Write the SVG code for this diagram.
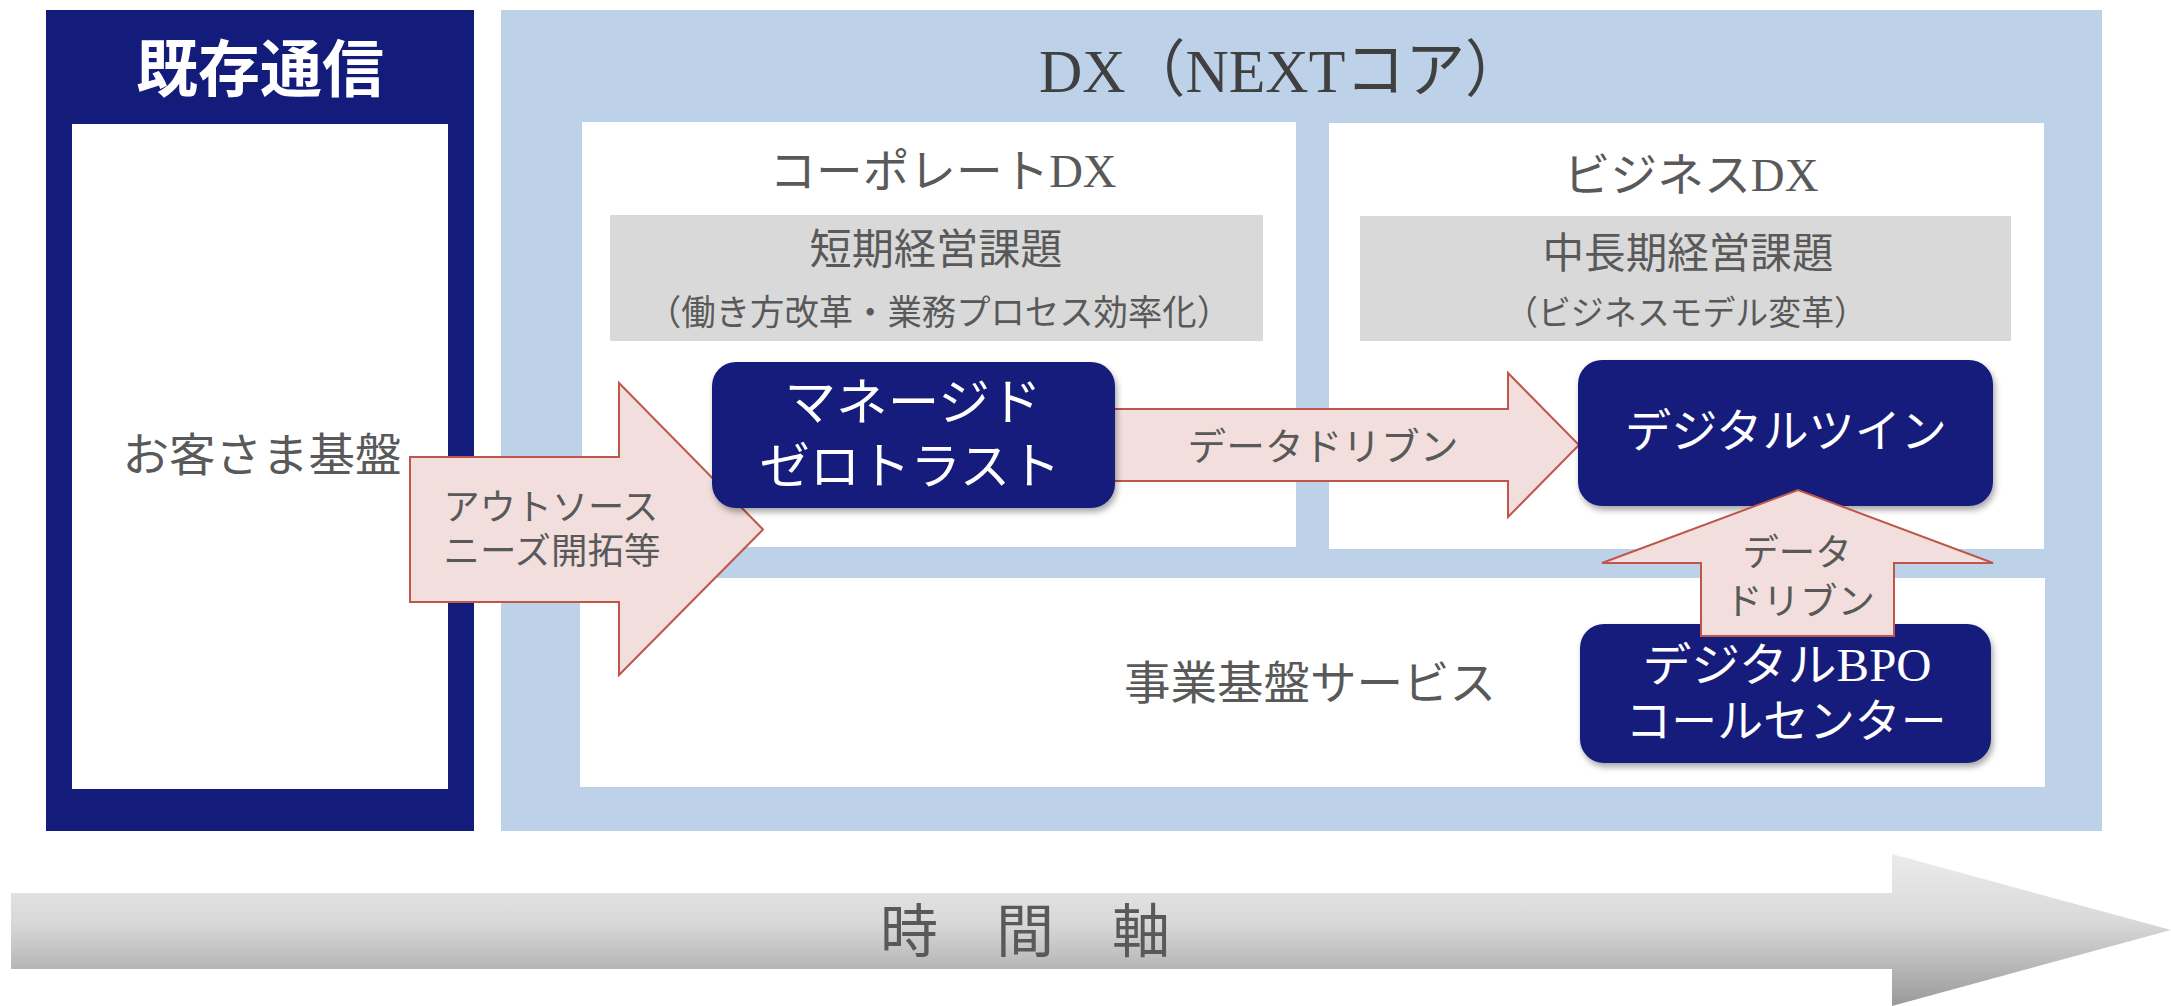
<svg xmlns="http://www.w3.org/2000/svg" width="2171" height="1006" viewBox="0 0 2171 1006">
<style>
.navy{fill:#131B7B}
.lblue{fill:#BDD1E9}
.white{fill:#FFFFFF}
.gray{fill:#D9D9D9}
.arrow{fill:#F2DFDD;stroke:#C0564A;stroke-width:2;stroke-linejoin:miter}
.t{font-family:"Liberation Serif","Noto Sans CJK JP",serif;fill:#595959;text-anchor:middle}
.tw{font-family:"Liberation Serif","Noto Sans CJK JP",serif;fill:#FFFFFF;text-anchor:middle}
</style>
<defs>
<filter id="sh" x="-10%" y="-10%" width="125%" height="135%">
<feDropShadow dx="2" dy="4" stdDeviation="3" flood-color="#000" flood-opacity="0.35"/>
</filter>
<linearGradient id="tg" gradientUnits="userSpaceOnUse" x1="0" y1="854" x2="0" y2="1006">
<stop offset="0" stop-color="#EBEBEB"/>
<stop offset="0.45" stop-color="#D9D9D9"/>
<stop offset="1" stop-color="#9A9A9A"/>
</linearGradient>
</defs>

<g id="existing">
<rect class="navy" x="46" y="10" width="428" height="821"/>
<rect class="white" x="72" y="124" width="376" height="665"/>
<text class="tw" x="260" y="92" font-size="62" font-weight="bold" textLength="248" lengthAdjust="spacingAndGlyphs">既存通信</text>
<text class="t" x="262" y="471" font-size="46" textLength="279" lengthAdjust="spacingAndGlyphs">お客さま基盤</text>
</g>

<g id="dx">
<rect class="lblue" x="501" y="10" width="1601" height="821"/>
<text class="t" x="1282" y="92" font-size="62" fill="#404040" style="fill:#404040" textLength="486" lengthAdjust="spacingAndGlyphs">DX（NEXTコア）</text>
</g>

<g id="corporate-dx">
<rect class="white" x="582" y="122" width="714" height="425"/>
<text class="t" x="943" y="187" font-size="46" textLength="347" lengthAdjust="spacingAndGlyphs">コーポレートDX</text>
<rect class="gray" x="610" y="215" width="653" height="126"/>
<text class="t" x="936" y="264" font-size="42" textLength="253" lengthAdjust="spacingAndGlyphs">短期経営課題</text>
<text class="t" x="939" y="325" font-size="35" textLength="584" lengthAdjust="spacingAndGlyphs">（働き方改革・業務プロセス効率化）</text>
</g>

<g id="business-dx">
<rect class="white" x="1329" y="123" width="715" height="426"/>
<text class="t" x="1691" y="191" font-size="46" textLength="255" lengthAdjust="spacingAndGlyphs">ビジネスDX</text>
<rect class="gray" x="1360" y="216" width="651" height="125"/>
<text class="t" x="1688" y="268" font-size="42" textLength="291" lengthAdjust="spacingAndGlyphs">中長期経営課題</text>
<text class="t" x="1686" y="325" font-size="34" textLength="362" lengthAdjust="spacingAndGlyphs">（ビジネスモデル変革）</text>
</g>

<g id="business-platform">
<rect class="white" x="580" y="578" width="1465" height="209"/>
<text class="t" x="1310" y="699" font-size="46" textLength="372" lengthAdjust="spacingAndGlyphs">事業基盤サービス</text>
</g>

<g id="connectors">
<polygon id="arrow-outsource" class="arrow" points="410,457 619,457 619,383 763,529.5 619,675 619,602 410,602"/>
<text class="t" x="551" y="520" font-size="36" textLength="215" lengthAdjust="spacingAndGlyphs">アウトソース</text>
<text class="t" x="552" y="564" font-size="36" textLength="217" lengthAdjust="spacingAndGlyphs">ニーズ開拓等</text>
<polygon id="arrow-datadriven" class="arrow" points="1114,409 1508,409 1508,373 1579,445 1508,517 1508,481 1114,481"/>
<text class="t" x="1323" y="460" font-size="38" textLength="271" lengthAdjust="spacingAndGlyphs">データドリブン</text>
</g>

<g id="managed-zerotrust">
<rect class="navy" x="712" y="362" width="403" height="146" rx="24" ry="24" filter="url(#sh)"/>
<text class="tw" x="913" y="420" font-size="50" textLength="257" lengthAdjust="spacingAndGlyphs">マネージド</text>
<text class="tw" x="910" y="484" font-size="50" textLength="301" lengthAdjust="spacingAndGlyphs">ゼロトラスト</text>
</g>

<g id="digital-twin">
<rect class="navy" x="1578" y="360" width="415" height="146" rx="24" ry="24" filter="url(#sh)"/>
<text class="tw" x="1786" y="447" font-size="46" textLength="322" lengthAdjust="spacingAndGlyphs">デジタルツイン</text>
</g>

<g id="digital-bpo">
<rect class="navy" x="1580" y="624" width="411" height="139" rx="24" ry="24" filter="url(#sh)"/>
<text class="tw" x="1787" y="681" font-size="46" textLength="289" lengthAdjust="spacingAndGlyphs">デジタルBPO</text>
<text class="tw" x="1786" y="737" font-size="46" textLength="321" lengthAdjust="spacingAndGlyphs">コールセンター</text>
</g>

<g id="connectors-up">
<polygon id="arrow-up-datadriven" class="arrow" points="1701,636 1701,563 1602,563 1798,490 1993,563 1894,563 1894,636"/>
<text class="t" x="1797" y="566" font-size="37" textLength="109" lengthAdjust="spacingAndGlyphs">データ</text>
<text class="t" x="1800" y="615" font-size="37" textLength="150" lengthAdjust="spacingAndGlyphs">ドリブン</text>
</g>

<g id="time-axis">
<polygon fill="url(#tg)" points="11,893 1892,893 1892,854 2171,930 1892,1006 1892,969 11,969"/>
<text class="t" x="880" y="952" font-size="58" style="text-anchor:start">時　間　軸</text>
</g>
</svg>
